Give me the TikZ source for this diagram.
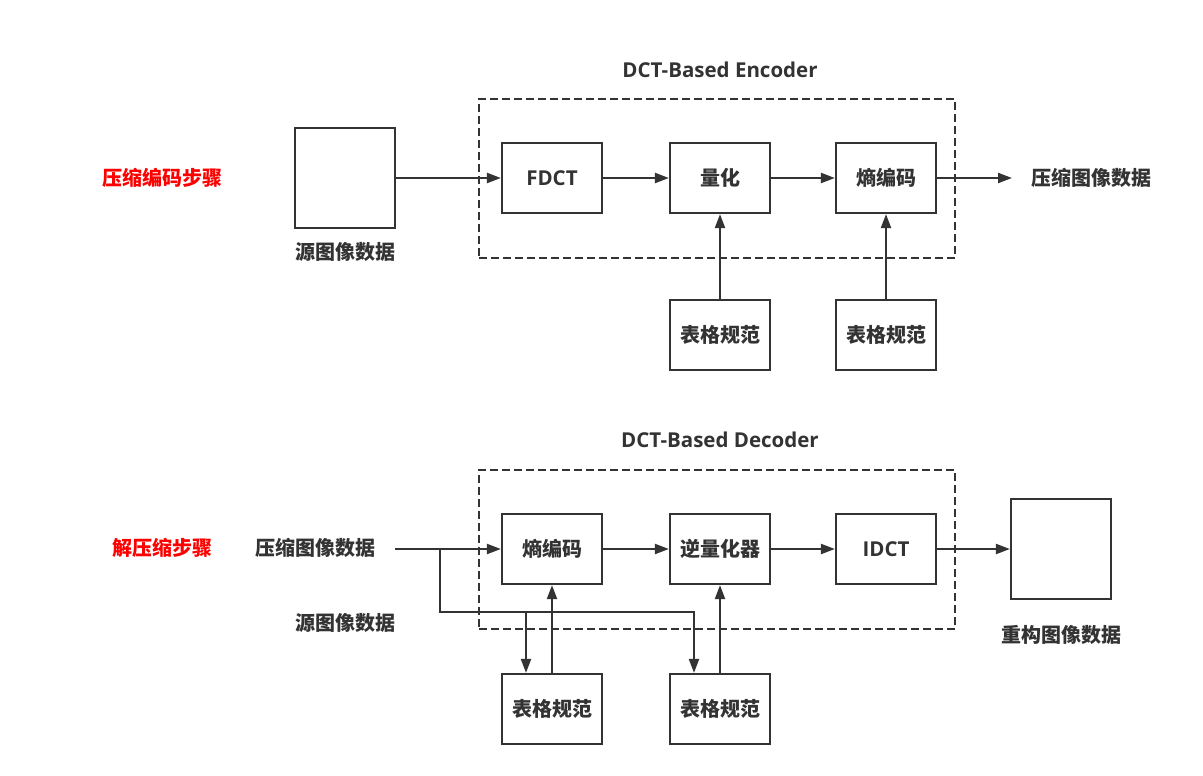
\documentclass[tikz,border=0pt]{standalone}
\usepackage{fontspec}
\setmainfont{Open Sans}
\newfontfamily\cjk{Noto Sans CJK SC}
\usetikzlibrary{arrows.meta,calc}
\definecolor{ink}{HTML}{333333}
\definecolor{redlbl}{HTML}{FF0000}
\tikzset{
  blk/.style={draw=ink, line width=2.2pt, minimum width=100pt, minimum height=70pt, inner sep=0pt, text=ink, font=\cjk\bfseries\fontsize{20}{24}\selectfont},
  img/.style={draw=ink, line width=2.2pt, minimum width=100pt, minimum height=100pt, inner sep=0pt},
  grp/.style={draw=ink, line width=2.2pt, dash pattern=on 8pt off 4pt, inner sep=0pt},
  lbl/.style={text=ink, inner sep=0pt, font=\cjk\bfseries\fontsize{20}{24}\selectfont},
  ttl/.style={text=ink, inner sep=0pt, font=\bfseries\fontsize{20.5}{24}\selectfont},
  redl/.style={text=redlbl, inner sep=0pt, font=\cjk\bfseries\fontsize{20}{24}\selectfont},
  conn/.style={draw=ink, line width=2.2pt},
  arr/.style={conn, -{Triangle[length=14pt,width=10pt]}},
}
\begin{document}
\begin{tikzpicture}[x=1pt,y=-1pt]
\useasboundingbox (0,0) rectangle (1203,776);
% ---------- encoder ----------
\node[grp, minimum width=476pt, minimum height=159pt] (encg) at (717,178.5) {};
\node[ttl] (enct) at (720,70) {DCT-Based Encoder};
\node[redl] (encstep) at (162,178) {压缩编码步骤};
\node[img] (src) at (345,178) {};
\node[lbl] (srcl) at (345,252) {源图像数据};
\node[blk, font=\bfseries\fontsize{20.5}{24}\selectfont] (fdct) at (552,178) {FDCT};
\node[blk] (quant) at (720,178) {量化};
\node[blk] (entc) at (886,178) {熵编码};
\node[blk] (tab1) at (720,335) {表格规范};
\node[blk] (tab2) at (886,335) {表格规范};
\node[lbl] (outc) at (1091,178) {压缩图像数据};
\coordinate (outend) at (1012,178);
\draw[arr] (src) -- (fdct);
\draw[arr] (fdct) -- (quant);
\draw[arr] (quant) -- (entc);
\draw[arr] (entc) -- (outend);
\draw[arr] (tab1) -- (quant);
\draw[arr] (tab2) -- (entc);
% ---------- decoder ----------
\node[grp, minimum width=476pt, minimum height=159pt] (decg) at (717,549.5) {};
\node[ttl] (dect) at (720,440) {DCT-Based Decoder};
\node[redl] (decstep) at (162,548) {解压缩步骤};
\node[lbl] (inl) at (315,548) {压缩图像数据};
\node[lbl] (srcl2) at (345,623) {源图像数据};
\node[blk] (dent) at (552,549) {熵编码};
\node[blk] (dq) at (720,549) {逆量化器};
\node[blk, font=\bfseries\fontsize{20.5}{24}\selectfont] (idct) at (886,549) {IDCT};
\node[img] (rec) at (1061,549) {};
\node[lbl] (recl) at (1061,635) {重构图像数据};
\node[blk] (tab3) at (552,709) {表格规范};
\node[blk] (tab4) at (720,709) {表格规范};
\coordinate (instart) at (395,549);
\coordinate (br) at (440,549);
\coordinate (j1) at (526,612);
\coordinate (j2) at (694,612);
\draw[arr] (instart) -- (dent);
\draw[arr] (dent) -- (dq);
\draw[arr] (dq) -- (idct);
\draw[arr] (idct) -- (rec);
\draw[arr] (br) |- (j2) -- (j2 |- tab4.north);
\draw[arr] (j1) -- (j1 |- tab3.north);
\draw[arr] (tab3) -- (dent);
\draw[arr] (tab4) -- (dq);
\end{tikzpicture}
\end{document}
